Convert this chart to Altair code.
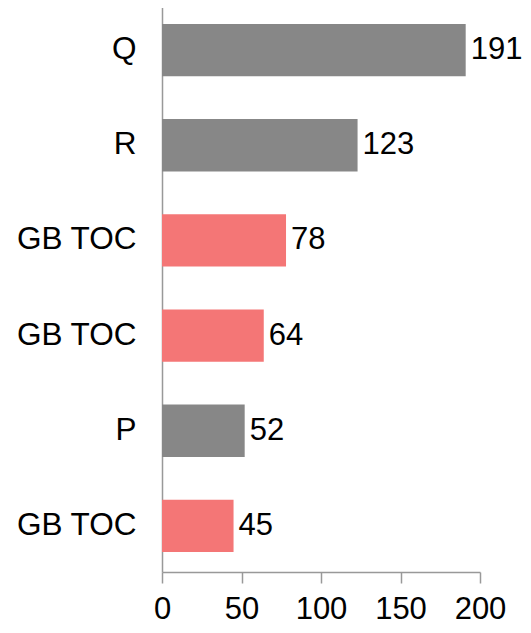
import altair as alt
import pandas as pd

keys = ["Q", "R", "GB TOC 1", "GB TOC 2", "P", "GB TOC 3"]
labels = ["Q", "R", "GB TOC", "GB TOC", "P", "GB TOC"]
values = [191, 123, 78, 64, 52, 45]
groups = ["other", "other", "GB TOC", "GB TOC", "other", "GB TOC"]

df = pd.DataFrame({"key": keys, "label": labels, "value": values, "group": groups})

label_expr = "{" + ", ".join(f"'{k}': '{l}'" for k, l in zip(keys, labels)) + "}[datum.value]"

FONT = "Liberation Sans"
FS = 31.5

y_enc = alt.Y(
    "key:N",
    sort=keys,
    scale=alt.Scale(paddingInner=0.45, paddingOuter=0.21),
    axis=alt.Axis(
        title=None,
        labelExpr=label_expr,
        ticks=False,
        labelPadding=26,
        labelFont=FONT,
        labelFontSize=FS,
        labelColor="#000000",
        domainColor="#999999",
        domainWidth=1.5,
    ),
)

x_enc = alt.X(
    "value:Q",
    scale=alt.Scale(domain=[0, 200], nice=False),
    axis=alt.Axis(
        title=None,
        values=[0, 50, 100, 150, 200],
        grid=False,
        tickSize=11,
        tickColor="#999999",
        tickWidth=1.5,
        domainColor="#999999",
        domainWidth=1.5,
        labelPadding=11,
        labelFont=FONT,
        labelFontSize=31,
        labelColor="#000000",
        labelFlush=False,
    ),
)

bars = alt.Chart(df).mark_bar().encode(
    x=x_enc,
    y=y_enc,
    color=alt.Color(
        "group:N",
        scale=alt.Scale(domain=["other", "GB TOC"], range=["#878787", "#F47676"]),
        legend=None,
    ),
)

text = alt.Chart(df).mark_text(
    align="left", baseline="middle", dx=5, font=FONT, fontSize=31, color="#000000"
).encode(
    x="value:Q",
    y=alt.Y("key:N", sort=keys),
    text="value:Q",
)

chart = (
    alt.layer(bars, text)
    .properties(
        width=318,
        height=568,
        autosize=alt.AutoSizeParams(type="none"),
        padding={"left": 154, "top": -4, "right": 43, "bottom": 53},
    )
    .configure_view(stroke=None)
)

chart.save("out.html", embed_options={"renderer": "svg", "actions": False})
